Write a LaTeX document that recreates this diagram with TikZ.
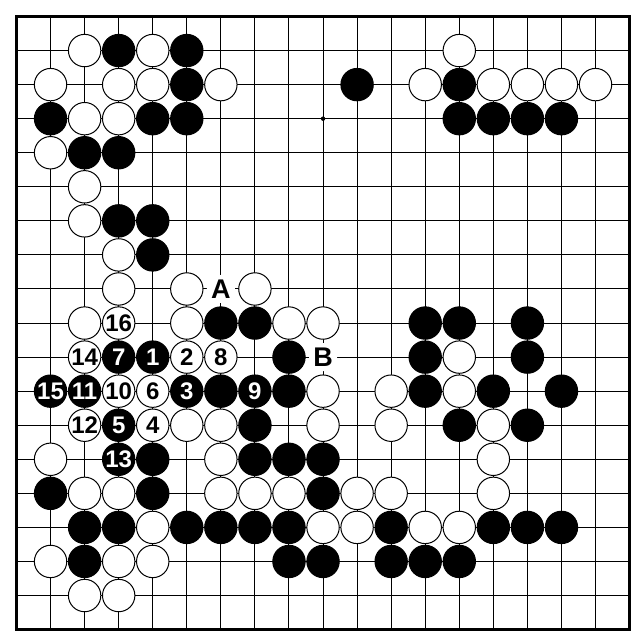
\documentclass[tikz,border=0pt]{standalone}
\usepackage{fontspec}
\setmainfont{Liberation Sans}
\begin{document}
\begin{tikzpicture}[x=34.06pt,y=-34.06pt,
  gridline/.style={line width=1pt},
  boardframe/.style={line width=3pt},
  bstone/.style={circle,draw=black,fill=black,line width=1pt,minimum size=32.4pt,inner sep=0pt,text=white,font=\fontsize{24}{24}\selectfont\bfseries},
  wstone/.style={bstone,fill=white,text=black},
  boardlabel/.style={circle,fill=white,inner sep=0pt,minimum size=28pt,font=\fontsize{27}{27}\selectfont\bfseries}]
\useasboundingbox (-0.4844,-0.4844) rectangle (18.306,18.306);
% grid
\foreach \i in {1,...,17} {
  \draw[gridline] (\i,0) -- (\i,18);
  \draw[gridline] (0,\i) -- (18,\i);
}
\draw[boardframe] (0,0) rectangle (18,18);
\fill (9,3) circle (2.2pt);
% black stones
\foreach \c/\r in {3/1,5/1,
  5/2,10/2,13/2,
  1/3,4/3,5/3,13/3,14/3,15/3,16/3,
  2/4,3/4,
  3/6,4/6,
  4/7,
  6/9,7/9,12/9,13/9,15/9,
  8/10,12/10,15/10,
  6/11,8/11,12/11,14/11,16/11,
  7/12,13/12,15/12,
  4/13,7/13,8/13,9/13,
  1/14,4/14,9/14,
  2/15,3/15,5/15,6/15,7/15,8/15,11/15,14/15,15/15,16/15,
  2/16,8/16,9/16,11/16,12/16,13/16}
  \node[bstone] (b\c-\r) at (\c,\r) {};
% white stones
\foreach \c/\r in {2/1,4/1,13/1,
  1/2,3/2,4/2,6/2,12/2,14/2,15/2,16/2,17/2,
  2/3,3/3,
  1/4,
  2/5,
  2/6,
  3/7,
  3/8,5/8,7/8,
  2/9,5/9,8/9,9/9,
  13/10,
  9/11,11/11,13/11,
  5/12,6/12,9/12,11/12,14/12,
  1/13,6/13,14/13,
  2/14,3/14,6/14,7/14,8/14,10/14,11/14,14/14,
  4/15,9/15,10/15,12/15,13/15,
  1/16,3/16,4/16,
  2/17,3/17}
  \node[wstone] (w\c-\r) at (\c,\r) {};
% numbered black stones
\foreach \c/\r/\n in {4/10/1,5/11/3,3/12/5,3/10/7,7/11/9,2/11/11,3/13/13,1/11/15}
  \node[bstone] (m\n) at (\c,\r) {\n};
% numbered white stones
\foreach \c/\r/\n in {5/10/2,4/12/4,4/11/6,6/10/8,3/11/10,2/12/12,2/10/14,3/9/16}
  \node[wstone] (m\n) at (\c,\r) {\n};
% letters
\node[boardlabel] (A) at (6,8) {A};
\node[boardlabel] (B) at (9,10) {B};
\end{tikzpicture}
\end{document}
